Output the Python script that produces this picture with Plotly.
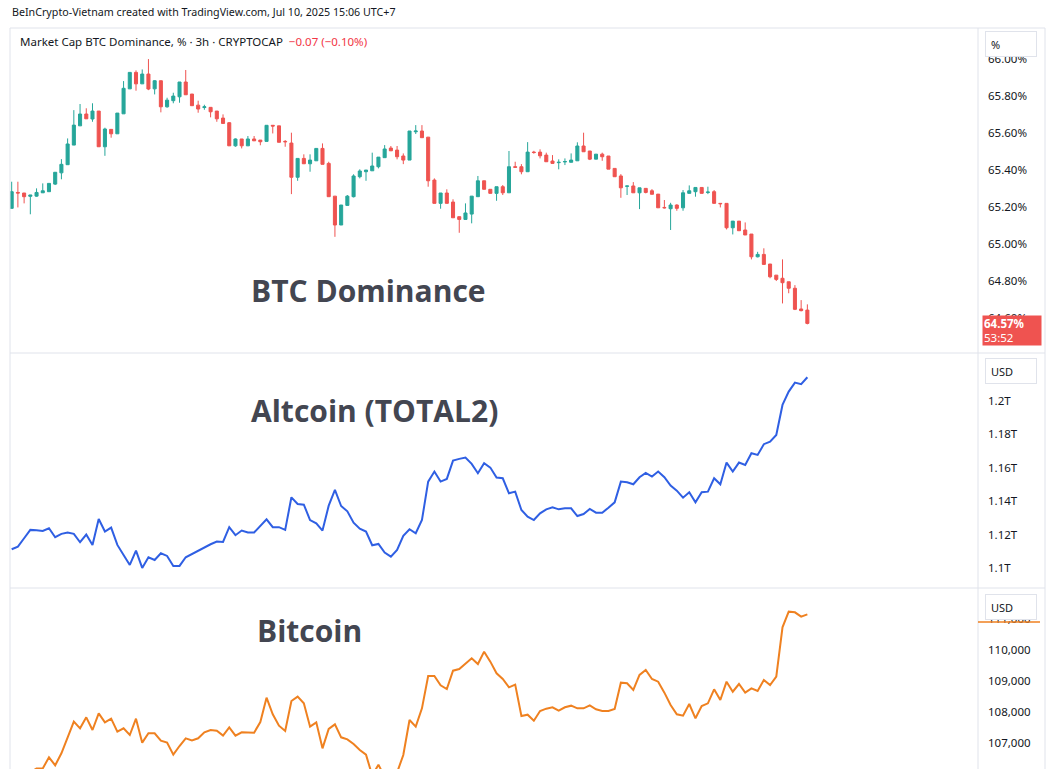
import plotly.graph_objects as go

# ---------------- data ----------------
idx = list(range(129))

dom_open = [65.193,65.279,65.276,65.258,65.259,65.277,65.283,65.324,65.385,65.429,
            65.535,65.639,65.703,65.676,65.719,65.526,65.620,65.596,65.704,65.839,
            65.928,65.866,65.919,65.839,65.883,65.742,65.775,65.796,65.876,65.811,
            65.751,65.738,65.739,65.719,65.681,65.656,65.531,65.568,65.531,65.568,
            65.562,65.555,65.642,65.639,65.555,65.546,65.361,65.463,65.434,65.450,
            65.517,65.436,65.259,65.103,65.209,65.256,65.364,65.391,65.396,65.418,
            65.467,65.519,65.508,65.476,65.454,65.607,65.611,65.578,65.346,65.220,
            65.276,65.227,65.148,65.133,65.162,65.256,65.342,65.296,65.274,65.310,
            65.277,65.418,65.418,65.391,65.497,65.497,65.481,65.449,65.440,65.444,
            65.442,65.450,65.530,65.503,65.459,65.486,65.476,65.409,65.368,65.312,
            65.314,65.277,65.301,65.288,65.270,65.198,65.191,65.211,65.196,65.274,
            65.283,65.306,65.279,65.283,65.220,65.220,65.088,65.124,65.076,65.054,
            64.931,64.944,64.892,64.832,64.815,64.796,64.761,64.649,64.643]
dom_high = [65.337,65.337,65.276,65.265,65.301,65.328,65.328,65.388,65.459,65.571,
            65.724,65.757,65.734,65.761,65.719,65.629,65.620,65.708,65.881,65.928,
            65.939,65.944,66.000,65.886,65.883,65.791,65.818,65.876,65.941,65.811,
            65.775,65.753,65.739,65.719,65.701,65.659,65.571,65.568,65.584,65.584,
            65.562,65.642,65.642,65.639,65.562,65.602,65.463,65.485,65.485,65.517,
            65.544,65.445,65.259,65.211,65.265,65.377,65.404,65.400,65.494,65.470,
            65.535,65.530,65.530,65.490,65.611,65.643,65.643,65.578,65.355,65.276,
            65.296,65.242,65.148,65.220,65.259,65.368,65.342,65.296,65.310,65.319,
            65.503,65.445,65.432,65.551,65.504,65.512,65.494,65.481,65.458,65.463,
            65.490,65.550,65.602,65.503,65.486,65.494,65.476,65.409,65.378,65.314,
            65.335,65.304,65.301,65.297,65.270,65.238,65.223,65.215,65.292,65.317,
            65.306,65.306,65.310,65.292,65.220,65.220,65.124,65.124,65.117,65.054,
            64.958,64.977,64.892,64.832,64.917,64.796,64.778,64.697,64.674]
dom_low = [65.193,65.198,65.220,65.161,65.256,65.277,65.283,65.319,65.350,65.429,
           65.535,65.639,65.677,65.661,65.526,65.477,65.575,65.596,65.704,65.839,
           65.829,65.866,65.832,65.809,65.712,65.737,65.761,65.764,65.807,65.748,
           65.710,65.726,65.685,65.661,65.652,65.531,65.526,65.517,65.531,65.558,
           65.534,65.555,65.598,65.550,65.526,65.270,65.342,65.434,65.391,65.450,
           65.431,65.256,65.039,65.103,65.209,65.252,65.355,65.342,65.396,65.409,
           65.467,65.504,65.458,65.432,65.454,65.595,65.575,65.310,65.220,65.191,
           65.220,65.142,65.061,65.133,65.112,65.256,65.296,65.274,65.234,65.265,
           65.277,65.415,65.377,65.391,65.488,65.463,65.445,65.436,65.404,65.427,
           65.442,65.450,65.499,65.454,65.459,65.450,65.405,65.364,65.250,65.265,
           65.277,65.189,65.274,65.269,65.196,65.192,65.076,65.180,65.180,65.274,
           65.256,65.274,65.270,65.220,65.198,65.079,65.052,65.072,65.049,64.917,
           64.928,64.890,64.815,64.800,64.679,64.734,64.643,64.636,64.566]
dom_close = [65.283,65.276,65.256,65.265,65.279,65.288,65.328,65.388,65.431,65.541,
             65.643,65.703,65.677,65.719,65.526,65.622,65.596,65.708,65.842,65.928,
             65.866,65.919,65.838,65.883,65.742,65.778,65.800,65.876,65.807,65.748,
             65.730,65.742,65.715,65.677,65.652,65.531,65.568,65.531,65.568,65.558,
             65.553,65.642,65.638,65.550,65.553,65.361,65.463,65.434,65.454,65.517,
             65.431,65.256,65.103,65.211,65.259,65.368,65.395,65.400,65.422,65.470,
             65.514,65.504,65.472,65.454,65.611,65.611,65.575,65.342,65.220,65.276,
             65.220,65.142,65.133,65.168,65.259,65.342,65.296,65.274,65.310,65.277,
             65.418,65.415,65.391,65.497,65.495,65.477,65.445,65.436,65.442,65.446,
             65.454,65.530,65.499,65.459,65.486,65.472,65.405,65.364,65.304,65.314,
             65.277,65.304,65.279,65.269,65.196,65.196,65.211,65.193,65.277,65.288,
             65.306,65.274,65.281,65.220,65.218,65.088,65.124,65.072,65.049,64.931,
             64.944,64.890,64.823,64.809,64.791,64.761,64.647,64.640,64.571]

total2_t = [1.1112,1.1128,1.1178,1.1228,1.1226,1.1222,1.1238,1.1184,1.1204,1.1212,
            1.1204,1.1154,1.1200,1.1138,1.1293,1.1218,1.1242,1.1138,1.1078,1.1018,
            1.1104,1.1000,1.1064,1.1048,1.1088,1.1072,1.1012,1.1012,1.1064,1.1084,
            1.1102,1.1122,1.1142,1.1158,1.1156,1.1244,1.1196,1.1224,1.1212,1.1212,
            1.1251,1.1291,1.1244,1.1244,1.1228,1.1423,1.1383,1.1379,1.1287,1.1267,
            1.1224,1.1373,1.1467,1.1371,1.1339,1.1271,1.1235,1.1218,1.1136,1.1144,
            1.1092,1.1068,1.1108,1.1192,1.1232,1.1208,1.1287,1.1517,1.1577,1.1517,
            1.1533,1.1643,1.1653,1.1661,1.1623,1.1567,1.1627,1.1601,1.1541,1.1537,
            1.1447,1.1457,1.1347,1.1307,1.1287,1.1327,1.1351,1.1363,1.1351,1.1357,
            1.1357,1.1311,1.1323,1.1353,1.1331,1.1331,1.1361,1.1393,1.1517,1.1513,
            1.1501,1.1543,1.1569,1.1547,1.1577,1.1543,1.1493,1.1463,1.1421,1.1453,
            1.1393,1.1453,1.1457,1.1537,1.1501,1.1631,1.1577,1.1631,1.1617,1.1687,
            1.1677,1.1741,1.1756,1.1796,1.1976,1.2056,1.2110,1.2100,1.2142]

btc_usd = [105900,105950,106000,106050,106180,106180,106538,106280,106667,107151,
           107688,107473,107828,107419,107957,107667,107785,107366,107473,107258,
           107785,107011,107312,107312,107075,107011,106624,106903,107151,107086,
           107151,107344,107419,107398,107237,107505,107237,107344,107344,107333,
           107677,108462,107925,107559,107387,108355,108495,108280,107527,107667,
           106828,107452,107602,107183,107118,106968,106774,106624,105950,106301,
           105900,105850,106050,106613,107742,107527,108118,109161,109161,108860,
           108742,109333,109387,109570,109731,109548,109946,109624,109247,109065,
           108796,108882,107871,107914,107720,108032,108108,108151,108043,108151,
           108204,108118,108118,108215,108086,108032,108032,108097,108946,108925,
           108710,109194,109355,109065,108978,108624,108226,107925,107882,108258,
           107796,108194,108280,108731,108387,108978,108656,108903,108624,108763,
           108677,109032,108871,109140,110731,111237,111215,111075,111151]

dom_ticks = [64.6, 64.8, 65.0, 65.2, 65.4, 65.6, 65.8, 66.0]
t2_ticks = [1.10, 1.12, 1.14, 1.16, 1.18, 1.20]
t2_ticktext = ["1.1T", "1.12T", "1.14T", "1.16T", "1.18T", "1.2T"]
btc_ticks = [106000, 107000, 108000, 109000, 110000, 111000]

header_text = "BeInCrypto-Vietnam created with TradingView.com, Jul 10, 2025 15:06 UTC+7"
legend_text = "Market Cap BTC Dominance, % · 3h · CRYPTOCAP"
change_text = "−0.07 (−0.10%)"
countdown = "53:52"

# ---------------- style ----------------
GREEN = "#26a69a"
RED = "#ef5350"
BLUE = "#2f5fe3"
ORANGE = "#ef8120"
TXT = "#131722"
BIG = "#434651"
SEP = "#e0e3eb"
FONT = "Noto Sans, sans-serif"

W, H = 1051, 769
L, R, T, B = 10, 73, 28, 0
PW, PH = W - L - R, H - T - B


def px_x(x):
    return (x - L) / PW


def px_y(y):
    return 1 - (y - T) / PH


d1 = [px_y(353), 1.0]
d2 = [px_y(588), px_y(353)]
d3 = [0.0, px_y(588)]

xr = [-0.27, 155.45]

fig = go.Figure()
fig.add_trace(go.Candlestick(
    x=idx, open=dom_open, high=dom_high, low=dom_low, close=dom_close,
    xaxis="x", yaxis="y",
    increasing=dict(line=dict(color=GREEN, width=1), fillcolor=GREEN),
    decreasing=dict(line=dict(color=RED, width=1), fillcolor=RED),
    whiskerwidth=0, showlegend=False, hoverinfo="skip"))
fig.add_trace(go.Scatter(
    x=idx, y=total2_t, xaxis="x2", yaxis="y2", mode="lines",
    line=dict(color=BLUE, width=2), showlegend=False, hoverinfo="skip"))
fig.add_trace(go.Scatter(
    x=idx, y=btc_usd, xaxis="x3", yaxis="y3", mode="lines",
    line=dict(color=ORANGE, width=2), showlegend=False, hoverinfo="skip"))

yax_common = dict(side="right", showgrid=False, zeroline=False, showline=False,
                  ticks="", ticklabelstandoff=9,
                  tickfont=dict(family=FONT, size=11.5, color=TXT), fixedrange=True)
xax_common = dict(range=xr, visible=False, showgrid=False, zeroline=False, fixedrange=True)

fig.update_layout(
    width=W, height=H,
    margin=dict(l=L, r=R, t=T, b=B),
    paper_bgcolor="white", plot_bgcolor="white",
    xaxis=dict(domain=[0, 1], anchor="y", rangeslider=dict(visible=False), **xax_common),
    xaxis2=dict(domain=[0, 1], anchor="y2", **xax_common),
    xaxis3=dict(domain=[0, 1], anchor="y3", **xax_common),
    yaxis=dict(domain=d1, anchor="x", range=[64.411, 66.168],
               tickvals=dom_ticks, ticktext=[f"{v:.2f}%" for v in dom_ticks], **yax_common),
    yaxis2=dict(domain=d2, anchor="x2", range=[1.0880, 1.2287],
                tickvals=t2_ticks, ticktext=t2_ticktext, **yax_common),
    yaxis3=dict(domain=d3, anchor="x3", range=[106161, 112000],
                tickvals=btc_ticks, ticktext=[f"{v:,}" for v in btc_ticks], **yax_common),
    showlegend=False,
)

# separators / frame
shapes = []
line_style = dict(color=SEP, width=1)
shapes.append(dict(type="line", xref="paper", yref="paper", x0=px_x(10), x1=px_x(10),
                   y0=0, y1=1, line=line_style))
shapes.append(dict(type="line", xref="paper", yref="paper", x0=1, x1=1,
                   y0=0, y1=1, line=line_style))
shapes.append(dict(type="line", xref="paper", yref="paper", x0=px_x(1045), x1=px_x(1045),
                   y0=0, y1=1, line=line_style))
for yy in (28, 353, 588):
    shapes.append(dict(type="line", xref="paper", yref="paper", x0=px_x(10), x1=px_x(1045),
                       y0=px_y(yy), y1=px_y(yy), line=line_style))
# edge of the Bitcoin last-price label peeking out under the unit box
shapes.append(dict(type="line", xref="paper", yref="paper", x0=px_x(978), x1=px_x(1040),
                   y0=px_y(622), y1=px_y(622), line=dict(color=ORANGE, width=1.5)))
fig.update_layout(shapes=shapes)

ann = []
# header and legend
ann.append(dict(xref="paper", yref="paper", x=px_x(10), y=px_y(12), xanchor="left", yanchor="middle",
                text=header_text, showarrow=False, font=dict(family=FONT, size=10.7, color=TXT)))
ann.append(dict(xref="paper", yref="paper", x=px_x(18), y=px_y(42), xanchor="left", yanchor="middle",
                text=legend_text + "  <span style='color:#f23645'>" + change_text + "</span>",
                showarrow=False, font=dict(family=FONT, size=11.5, color=TXT)))
# big labels
for txt, x0, yc in (("BTC Dominance", 249, 290), ("Altcoin (TOTAL2)", 249, 410), ("Bitcoin", 255, 630)):
    ann.append(dict(xref="paper", yref="paper", x=px_x(x0), y=px_y(yc), xanchor="left", yanchor="middle",
                    text="<b>" + txt + "</b>", showarrow=False,
                    font=dict(family="Open Sans, sans-serif", size=30, color=BIG)))
# last price label (dominance)
ann.append(dict(xref="paper", yref="y", x=px_x(1012), y=dom_close[-1], xanchor="center", yanchor="middle",
                yshift=-7, text="<b>%.2f%%</b><br>%s" % (dom_close[-1], countdown), showarrow=False,
                align="left", bgcolor=RED, width=56, height=27, borderpad=1,
                font=dict(family=FONT, size=11.5, color="white")))
# unit boxes
for u, yc in (("%", 44), ("USD", 371), ("USD", 607)):
    ann.append(dict(xref="paper", yref="paper", x=px_x(1011), y=px_y(yc), xanchor="center", yanchor="middle",
                    text=u, showarrow=False, bgcolor="white", bordercolor=SEP, borderwidth=1,
                    width=40, height=14, borderpad=5, align="left",
                    font=dict(family=FONT, size=11, color=TXT)))
fig.update_layout(annotations=ann)

fig.write_html("out.html")
